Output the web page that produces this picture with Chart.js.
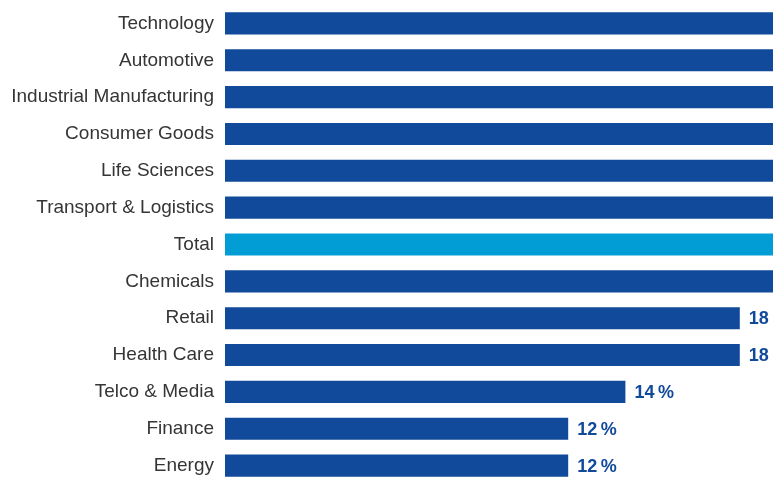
<!DOCTYPE html>
<html>
<head>
<meta charset="utf-8">
<script src="https://cdn.jsdelivr.net/npm/chart.js@4"></script>
<style>
    html, body { margin: 0; padding: 0; background: #ffffff; overflow: hidden; }
    #wrap { width: 1083px; height: 484px; }
</style>
</head>
<body>
<div id="wrap"><canvas id="sectorChart" width="1083" height="484"></canvas></div>
<script>
// Sectors, top to bottom
const sectors = ['Technology', 'Automotive', 'Industrial Manufacturing', 'Consumer Goods', 'Life Sciences',
    'Transport & Logistics', 'Total', 'Chemicals', 'Retail', 'Health Care', 'Telco & Media', 'Finance', 'Energy'];
// Share in % (top bars run off the picture, values estimated)
const shares = [27, 26, 25, 24, 23, 22, 21, 20, 18, 18, 14, 12, 12];
const highlight = 'Total';

const darkBlue = 'rgb(17, 74, 154)';
const lightBlue = 'rgb(2, 157, 212)';
const barColors = sectors.map(s => s === highlight ? lightBlue : darkBlue);

// Value labels at the end of each bar
const valueLabels = {
    id: 'valueLabels',
    afterDatasetsDraw(chart) {
        const ctx = chart.ctx;
        const meta = chart.getDatasetMeta(0);
        ctx.save();
        ctx.font = 'bold 18px "Liberation Sans", Arial, sans-serif';
        ctx.fillStyle = darkBlue;
        ctx.textBaseline = 'middle';
        ctx.textAlign = 'left';
        meta.data.forEach((bar, i) => {
            ctx.fillText(shares[i] + '\u2009%', bar.x + 9, bar.y + 1);
        });
        ctx.restore();
    }
};

const ctx = document.getElementById('sectorChart').getContext('2d');
new Chart(ctx, {
    type: 'bar',
    data: {
        labels: sectors,
        datasets: [{
            data: shares,
            backgroundColor: barColors,
            borderWidth: 0,
            barPercentage: 0.6,
            categoryPercentage: 1.0
        }]
    },
    options: {
        indexAxis: 'y',
        responsive: false,
        animation: false,
        layout: { padding: { top: 5, right: 0, bottom: 0, left: 0 } },
        plugins: {
            legend: { display: false },
            tooltip: { enabled: false }
        },
        scales: {
            x: {
                display: false,
                min: 0,
                max: 30
            },
            y: {
                grid: { display: false, drawTicks: false },
                border: { display: false },
                ticks: {
                    padding: 11,
                    color: '#353535',
                    font: { family: '"Liberation Sans", Arial, sans-serif', size: 19 }
                },
                afterFit(scale) {
                    scale.width = 225;
                    // no extra room for the first/last label
                    scale.paddingTop = 0;
                    scale.paddingBottom = 0;
                }
            }
        }
    },
    plugins: [valueLabels]
});
</script>
</body>
</html>
